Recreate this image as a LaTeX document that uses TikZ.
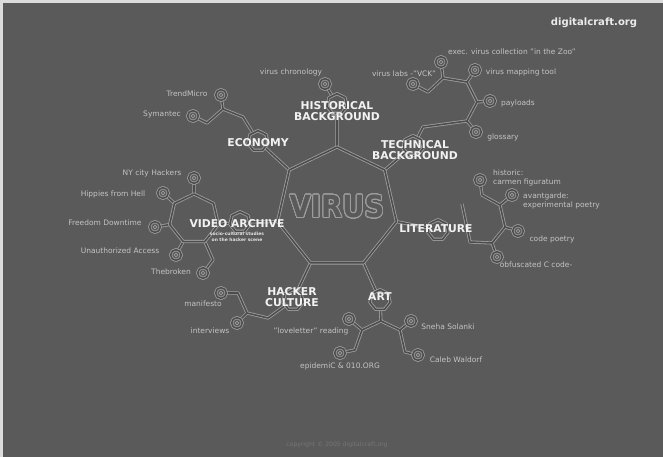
\documentclass[tikz,border=0pt]{standalone}
\usepackage{fontspec}
\setmainfont{DejaVu Sans}
\usepackage{contour}
\usetikzlibrary{shapes.geometric}

\definecolor{board}{HTML}{5A5A5A}
\definecolor{wire}{HTML}{9E9E9E}
\definecolor{wirecore}{HTML}{4C4C4C}
\definecolor{leaftext}{HTML}{C4C4C4}
\definecolor{frame}{HTML}{DCDCDC}
\definecolor{faint}{HTML}{767676}

\pgfdeclarelayer{backdrop}
\pgfdeclarelayer{wires}
\pgfsetlayers{backdrop,wires,main}

\contourlength{0.8pt}
\contournumber{32}

\begin{document}
\begin{tikzpicture}[x=0.03cm, y=-0.03cm,
  pipe/.style={draw=wire, double=wirecore, line width=0.7pt, double distance=1.3pt, line join=round},
  hub/.style={regular polygon, regular polygon sides=7, pipe, fill=board, minimum size=0.62cm, inner sep=0pt, outer sep=0pt},
  term/.style={circle, pipe, fill=board, minimum size=0.32cm, inner sep=0pt, outer sep=0pt,
    path picture={\draw[wire, line width=0.6pt] (path picture bounding box.center) circle (1.5pt);}},
  heading/.style={text=white!95!black, font=\fontsize{9.2}{9.8}\selectfont\bfseries, align=center, inner sep=0pt},
  leaf/.style={text=leaftext, font=\fontsize{6.4}{7}\selectfont, inner sep=0pt}]

  \useasboundingbox (0,0) rectangle (663,457);
  \begin{pgfonlayer}{backdrop}
    \fill[frame] (0,0) rectangle (663,457);
    \fill[board] (3,3) rectangle (663,457);
  \end{pgfonlayer}

  % The central ring and its title
  \node[regular polygon, regular polygon sides=7, pipe, fill=board, minimum size=3.66cm,
        inner sep=0pt, outer sep=0pt] (ring) at (337,208) {};
  \node[xscale=0.9, font=\fontsize{26}{26}\selectfont\bfseries, text=board] (title) at (337,207)
    {\contour{wire}{VIRUS}};

  % Hubs of the seven topics
  \node[hub] (hist)  at (337,104) {};
  \node[hub] (econ)  at (258,141) {};
  \node[hub] (tech)  at (413,146) {};
  \node[hub] (lit)   at (438,230) {};
  \node[hub] (video) at (240,222) {};
  \node[hub] (hack)  at (293,300) {};
  \node[hub] (art)   at (380,300) {};
  \node[regular polygon, regular polygon sides=7, pipe, fill=board, minimum size=1.5cm,
        inner sep=0pt, outer sep=0pt] (vring) at (194,219) {};

  % Branch points
  \coordinate (e1) at (243,117);
  \coordinate (e2) at (223,109);
  \coordinate (e3) at (207,123);
  \coordinate (t1) at (423,127);
  \coordinate (t2) at (467,121);
  \coordinate (t3) at (477,102);
  \coordinate (t4) at (467,82);
  \coordinate (t5) at (443,78);
  \coordinate (t6) at (428,92);
  \coordinate (l0) at (462,204);
  \coordinate (l1) at (470,242);
  \coordinate (l2) at (492,243);
  \coordinate (l3) at (505,227);
  \coordinate (l4) at (500,205);
  \coordinate (l5) at (482,195);
  \coordinate (v1) at (213,260);
  \coordinate (h1) at (268,318);
  \coordinate (h2) at (247,313);
  \coordinate (h3) at (238,293);
  \coordinate (a0) at (381,321);
  \coordinate (a1) at (362,330);
  \coordinate (a2) at (355,350);
  \coordinate (a3) at (400,330);
  \coordinate (a4) at (405,352);

  % End points
  \node[term] (tChron)  at (325,84)  {};
  \node[term] (tTrend)  at (221,95)  {};
  \node[term] (tSym)    at (193,116) {};
  \node[term] (tZoo)    at (441,62)  {};
  \node[term] (tVck)    at (413,84)  {};
  \node[term] (tMap)    at (475,70)  {};
  \node[term] (tPay)    at (490,101) {};
  \node[term] (tGloss)  at (476,132) {};
  \node[term] (tHistor) at (480,180) {};
  \node[term] (tAvant)  at (512,195) {};
  \node[term] (tCode)   at (518,231) {};
  \node[term] (tObf)    at (497,257) {};
  \node[term] (tNY)     at (194,178) {};
  \node[term] (tHip)    at (163,193) {};
  \node[term] (tFree)   at (155,227) {};
  \node[term] (tUna)    at (176,255) {};
  \node[term] (tThe)    at (203,273) {};
  \node[term] (tMan)    at (221,293) {};
  \node[term] (tInt)    at (237,323) {};
  \node[term] (tLove)   at (349,319) {};
  \node[term] (tEpi)    at (340,353) {};
  \node[term] (tSneha)  at (411,321) {};
  \node[term] (tCaleb)  at (418,355) {};

  % Pipes: light casing first, dark core second
  \begin{pgfonlayer}{wires}
    \foreach \col/\wd in {wire/2.7pt, wirecore/1.3pt}
      \draw[\col, line width=\wd, line join=round]
        (ring.corner 1) -- (hist)  (hist) -- (tChron)
        (ring.corner 2) -- (econ)  (econ) -- (e1) -- (e2) -- (tTrend)  (e2) -- (e3) -- (tSym)
        (ring.corner 7) -- (tech)  (tech) -- (t1) -- (t2) -- (tGloss)
          (t2) -- (t3) -- (tPay)  (t3) -- (t4) -- (tMap)  (t4) -- (t5) -- (tZoo)  (t5) -- (t6) -- (tVck)
        (ring.corner 6) -- (lit)
          (l0) -- (l1) -- (l2) -- (tObf)  (l2) -- (l3) -- (tCode)  (l3) -- (l4) -- (tAvant)  (l4) -- (l5) -- (tHistor)
        (ring.corner 3) -- (video)  (vring.corner 6) -- (video)
          (vring.corner 1) -- (tNY)  (vring.corner 2) -- (tHip)  (vring.corner 3) -- (tFree)
          (vring.corner 4) -- (tUna)  (vring.corner 5) -- (v1) -- (tThe)
        (ring.corner 4) -- (hack)  (hack) -- (h1) -- (h2) -- (h3) -- (tMan)  (h2) -- (tInt)
        (ring.corner 5) -- (art)  (art) -- (a0) -- (a1) -- (tLove)  (a1) -- (a2) -- (tEpi)
          (a0) -- (a3) -- (tSneha)  (a3) -- (a4) -- (tCaleb);
  \end{pgfonlayer}

  % Topic headings
  \node[heading] (histlbl)  at (337,111) {HISTORICAL\\BACKGROUND};
  \node[heading] (econlbl)  at (258,143) {ECONOMY};
  \node[heading] (techlbl)  at (415,150) {TECHNICAL\\BACKGROUND};
  \node[heading] (litlbl)   at (436,229) {LITERATURE};
  \node[heading] (videolbl) at (237,224) {VIDEO ARCHIVE};
  \node[text=white!90!black, font=\fontsize{3.8}{4.8}\selectfont\bfseries, align=center, inner sep=0pt]
    (videosub) at (237,237) {socio-cultural studies\\on the hacker scene};
  \node[heading] (hacklbl)  at (292,297) {HACKER\\CULTURE};
  \node[heading] (artlbl)   at (380,297) {ART};

  % Leaf labels
  \node[leaf] at (291,72)  {virus chronology};
  \node[leaf] at (187,94)  {TrendMicro};
  \node[leaf] at (162,114) {Symantec};
  \node[leaf] at (512,52)  {exec. virus collection "in the Zoo"};
  \node[leaf] at (404,74)  {virus labs -"VCK"};
  \node[leaf] at (521,72)  {virus mapping tool};
  \node[leaf] at (518,103) {payloads};
  \node[leaf] at (503,137) {glossary};
  \node[leaf, anchor=west, align=left] at (493,178) {historic:\\carmen figuratum};
  \node[leaf, anchor=west, align=left] at (523,201) {avantgarde:\\experimental poetry};
  \node[leaf] at (552,239) {code poetry};
  \node[leaf] at (536,265) {obfuscated C code-};
  \node[leaf] at (152,173) {NY city Hackers};
  \node[leaf] at (113,194) {Hippies from Hell};
  \node[leaf] at (105,223) {Freedom Downtime};
  \node[leaf] at (120,251) {Unauthorized Access};
  \node[leaf] at (171,272) {Thebroken};
  \node[leaf] at (203,304) {manifesto};
  \node[leaf] at (210,331) {interviews};
  \node[leaf] at (311,331) {"loveletter" reading};
  \node[leaf] at (340,366) {epidemiC \& 010.ORG};
  \node[leaf] at (448,327) {Sneha Solanki};
  \node[leaf] at (456,360) {Caleb Waldorf};

  % Site name and footer
  \node[text=white!92!black, font=\fontsize{8.6}{9}\selectfont\bfseries] (site) at (594,23) {digitalcraft.org};
  \node[text=faint, font=\fontsize{5.2}{6}\selectfont] (copy) at (337,445) {copyright © 2005 digitalcraft.org};
\end{tikzpicture}
\end{document}
